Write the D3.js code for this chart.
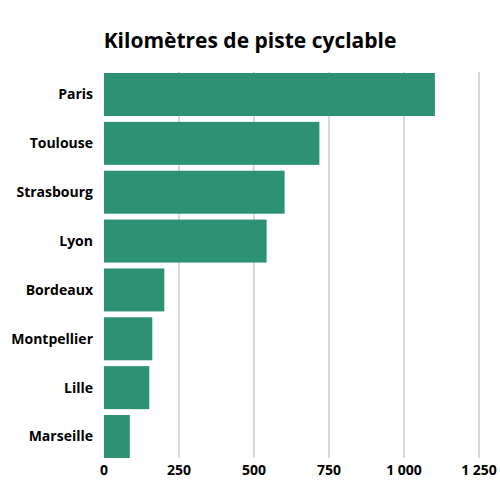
<!DOCTYPE html>
<html>
<head>
<meta charset="utf-8">
<script src="https://cdn.jsdelivr.net/npm/d3@7"></script>
<style>
  body { margin: 0; background: #fff; font-family: "Open Sans", sans-serif; }
</style>
</head>
<body>
<svg id="chart" width="500" height="500"></svg>
<script>
const villes = ['Paris', 'Toulouse', 'Strasbourg', 'Lyon', 'Bordeaux', 'Montpellier', 'Lille', 'Marseille'];
const km = [1103, 718, 602, 542, 201, 161, 151, 86];
const ticks = [0, 250, 500, 750, 1000, 1250];

const svg = d3.select("#chart");
const x = d3.scaleLinear().domain([0, 1250]).range([104, 479]);
const y = d3.scaleBand().domain(villes).range([73, 458]).paddingInner(0.12).paddingOuter(0);

svg.append("text")
    .attr("x", 250).attr("y", 48)
    .attr("text-anchor", "middle")
    .attr("style", "font-size:21px;font-weight:700;fill:#000")
    .text("Kilomètres de piste cyclable");

// grille
svg.append("g").selectAll("line")
    .data(ticks.slice(1))
    .enter().append("line")
    .attr("x1", d => x(d)).attr("x2", d => x(d))
    .attr("y1", 72).attr("y2", 458)
    .attr("stroke", "#d9d9d9").attr("stroke-width", 2);

svg.append("g").selectAll("rect")
    .data(km)
    .enter().append("rect")
    .attr("x", x(0))
    .attr("y", (d, i) => y(villes[i]))
    .attr("width", d => x(d) - x(0))
    .attr("height", y.bandwidth())
    .attr("fill", "#2d9173");

svg.append("g").selectAll("text")
    .data(villes)
    .enter().append("text")
    .attr("x", 93)
    .attr("y", d => y(d) + y.bandwidth() / 2)
    .attr("dy", "0.35em")
    .attr("text-anchor", "end")
    .attr("style", "font-size:14px;font-weight:700;fill:#000")
    .text(d => d);

svg.append("g").selectAll("text")
    .data(ticks)
    .enter().append("text")
    .attr("x", d => x(d))
    .attr("y", 475)
    .attr("text-anchor", "middle")
    .attr("style", "font-size:14px;font-weight:700;fill:#000")
    .text(d => d === 1000 ? "1 000" : d === 1250 ? "1 250" : d);
</script>
</body>
</html>
